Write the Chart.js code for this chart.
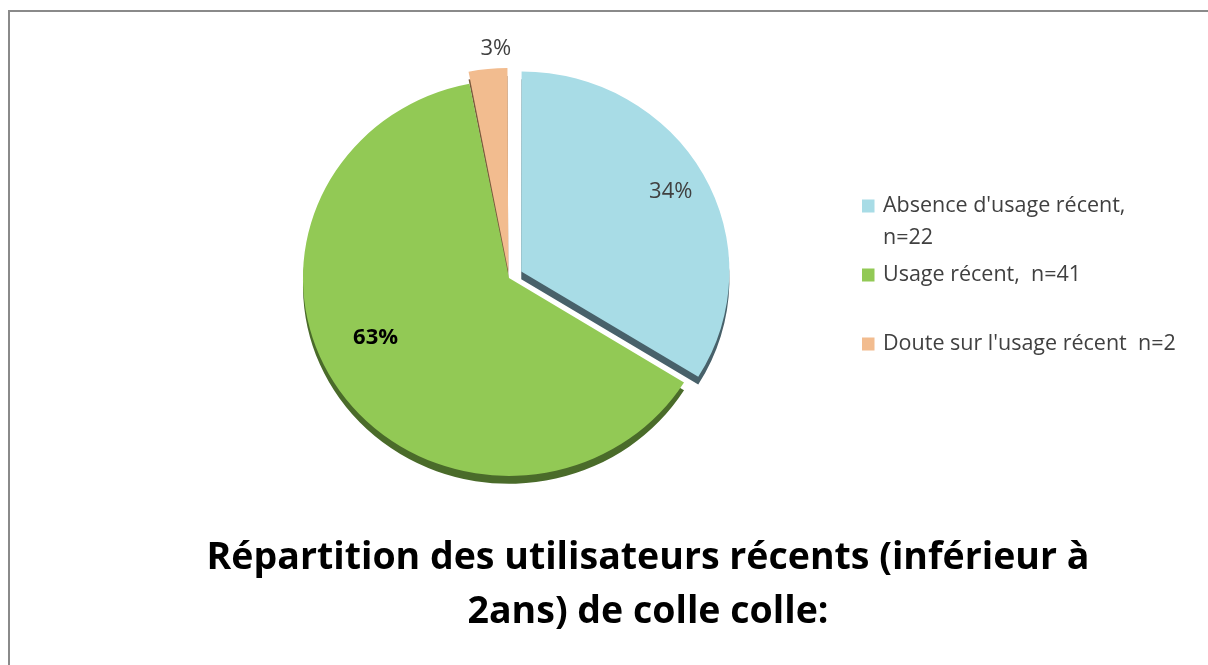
<!DOCTYPE html>
<html lang="fr">
<head>
<meta charset="utf-8">
<title>Répartition des utilisateurs récents</title>
<script src="https://cdn.jsdelivr.net/npm/chart.js@4.4.1/dist/chart.umd.min.js"></script>
<style>
    html, body { margin: 0; padding: 0; background: #fff; overflow: hidden; width: 1208px; height: 665px; }
    #cadre {
        position: absolute; left: 8px; top: 10px;
        width: 1280px; height: 700px;
        border-left: 2px solid #8a8a8a; border-top: 2px solid #8a8a8a;
    }
    #cadre canvas { display: block; }
</style>
</head>
<body>
<div id="cadre"><canvas id="camembert" width="1280" height="653"></canvas></div>
<script>
// Données du graphique
const categories = [
    ["Absence d'usage récent,", "n=22"],
    "Usage récent,  n=41",
    "Doute sur l'usage récent  n=2"
];
const effectifs = [22, 41, 2];
const titre = ["Répartition des utilisateurs récents (inférieur à", "2ans) de colle colle:"];

const couleurs = ['#A8DCE6', '#92C955', '#F2BC8F'];
const couleursOmbre = ['#48616A', '#4A6B2A', '#7A5A3E'];
const total = effectifs.reduce((a, b) => a + b, 0);

// léger aplatissement (effet 3D d'Excel)
const ECHELLE_X = 1.02, ECHELLE_Y = 0.98;
const POLICE = '"Open Sans", Roboto, sans-serif';

/**
 * Épaisseur 3D : on redessine chaque part décalée vers le bas en plus foncé
 */
const pluginRelief = {
    id: 'relief',
    beforeDatasetsDraw(chart) {
        const ctx = chart.ctx;
        const meta = chart.getDatasetMeta(0);
        const cx = meta.data[0].x, cy = meta.data[0].y;
        ctx.save();
        ctx.translate(cx, cy);
        ctx.scale(ECHELLE_X, ECHELLE_Y);
        ctx.translate(-cx, -cy);

        meta.data.forEach((arc, i) => {
            const orig = arc.options;
            arc.options = Object.assign({}, orig, { backgroundColor: couleursOmbre[i], borderColor: couleursOmbre[i] });
            ctx.save();
            ctx.translate(0, 8);
            arc.draw(ctx);
            ctx.restore();
            arc.options = orig;
        });
    },
    afterDatasetsDraw(chart) {
        chart.ctx.restore();
    }
};

/**
 * Étiquettes de pourcentage
 */
const pluginPourcent = {
    id: 'pourcent',
    afterDraw(chart, args, opts) {
        const ctx = chart.ctx;
        const meta = chart.getDatasetMeta(0);
        meta.data.forEach((arc, i) => {
            const p = arc.getProps(['x', 'y', 'startAngle', 'endAngle', 'outerRadius', 'circumference'], true);
            const mid = (p.startAngle + p.endAngle) / 2;
            const decal = (arc.options.offset || 0) / 4 * (2 - Math.sin(Math.min(Math.PI, p.circumference)));
            const cfg = opts.positions[i];
            const ang = mid + cfg.tourne * Math.PI / 180;
            const r = cfg.r * p.outerRadius + decal;
            const px = p.x + Math.cos(ang) * r * ECHELLE_X;
            const py = p.y + Math.sin(ang) * r * ECHELLE_Y;

            ctx.save();
            ctx.font = (cfg.gras ? 'bold ' : '') + '22px ' + POLICE;
            ctx.fillStyle = cfg.gras ? '#000000' : '#404040';
            ctx.textAlign = 'center';
            ctx.textBaseline = 'middle';
            ctx.fillText(Math.round(effectifs[i] / total * 100) + '%', px, py);
            ctx.restore();
        });
    }
};

/**
 * Légende à droite : une boîte réservée dans la mise en page,
 * texte sur deux lignes pour la première entrée
 */
const pluginLegende = {
    id: 'legende',
    beforeInit(chart, args, opts) {
        const boite = {
            position: 'right', weight: 0, fullSize: false, options: {},
            left: 0, top: 0, right: 0, bottom: 0, width: 0, height: 0,
            isHorizontal() { return false; },
            update(maxWidth, maxHeight) { this.width = opts.largeur; this.height = maxHeight; },
            draw() {}
        };
        chart.$boiteLegende = boite;
        Chart.layouts.addBox(chart, boite);
    },
    afterDraw(chart, args, opts) {
        const ctx = chart.ctx;
        const x0 = chart.$boiteLegende.left;
        ctx.save();
        ctx.font = '21.5px ' + POLICE;
        ctx.textBaseline = 'middle';
        categories.forEach((lib, i) => {
            const y = opts.y + i * opts.pas;
            ctx.fillStyle = couleurs[i];
            ctx.fillRect(x0, y - 6.5, 12.5, 13);
            ctx.fillStyle = '#404040';
            const lignes = Array.isArray(lib) ? lib : [lib];
            lignes.forEach((t, j) => ctx.fillText(t, x0 + 21, y + j * 32));
        });
        ctx.restore();
    }
};

new Chart(document.getElementById('camembert'), {
    type: 'pie',
    data: {
        labels: categories,
        datasets: [{
            data: effectifs,
            backgroundColor: couleurs,
            borderWidth: 0,
            offset: [55, 0, 27],
            radius: 202
        }]
    },
    options: {
        responsive: false,
        animation: false,
        events: [],
        layout: { padding: { left: 146, right: 150, top: 23, bottom: 0 } },
        plugins: {
            legend: { display: false },
            tooltip: { enabled: false },
            title: {
                display: true,
                position: 'bottom',
                text: titre,
                color: '#000000',
                font: { family: POLICE, size: 37.5, weight: 'bold', lineHeight: 1.44 },
                padding: { top: 10, bottom: 26 }
            },
            pourcent: {
                positions: [
                    { r: 0.82, tourne: 0 },
                    { r: 0.715, tourne: 9.5, gras: true },
                    { r: 1.1, tourne: 2.4 }
                ]
            },
            legende: { largeur: 278, y: 194, pas: 69 }
        }
    },
    plugins: [pluginRelief, pluginPourcent, pluginLegende]
});
</script>
</body>
</html>
